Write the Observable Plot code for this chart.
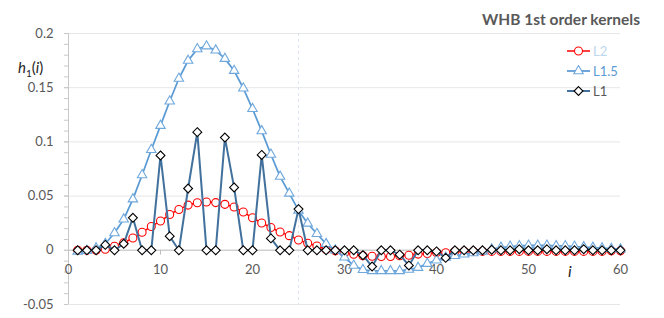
<!DOCTYPE html>
<html><head><meta charset="utf-8">
<script src="https://cdn.jsdelivr.net/npm/d3@7"></script>
<script src="https://cdn.jsdelivr.net/npm/@observablehq/plot@0.6"></script>
<style>
body{margin:0;background:#fff;}
#wrap{position:relative;width:664px;height:318px;font-family:Lato,"Liberation Sans",sans-serif;}
#title{position:absolute;right:24px;top:10px;font-weight:bold;font-size:15.5px;color:#595959;white-space:nowrap;}
#ylab{position:absolute;left:18px;top:58px;font-size:15px;color:#262626;white-space:nowrap;}
#xlab{position:absolute;left:568px;top:261px;font-size:16px;font-style:italic;color:#262626;}
#legend{position:absolute;left:566px;top:41px;font-size:13px;}
.lrow{display:flex;align-items:center;height:20px;}
.lrow svg{margin-right:2px;}
</style></head>
<body>
<div id="wrap">
  <div id="chart"></div>
  <div id="title">WHB 1st order kernels</div>
  <div id="ylab"><i>h</i><sub style="font-size:10px">1</sub>(<i>i</i>)</div>
  <div id="xlab">i</div>
  <div id="legend"></div>
</div>
<script>
const I = d3.range(1, 61);
const L2 = [0,0,0,0.001,0.0037,0.007,0.0113,0.0166,0.022,0.027,
 0.033,0.0377,0.0417,0.0439,0.0445,0.044,0.0424,0.040,0.0353,0.030,
 0.0252,0.021,0.0169,0.0135,0.0095,0.0065,0.004,0.0008,-0.0005,-0.0025,
 -0.0037,-0.005,-0.0055,-0.0057,-0.0057,-0.005,-0.0045,-0.0035,-0.003,-0.002,
 -0.0022,-0.001,-0.001,-0.001,-0.001,-0.001,-0.001,-0.001,-0.001,-0.001,
 -0.001,-0.001,-0.001,-0.001,-0.001,-0.001,-0.001,-0.001,-0.0005,-0.0005];
const L15 = [-0.001,-0.0005,0.002,0.006,0.016,0.0286,0.0472,0.0695,0.0928,0.115,
 0.1375,0.1585,0.175,0.1857,0.1883,0.1845,0.1768,0.1657,0.1495,0.1305,
 0.110,0.0884,0.068,0.0525,0.0368,0.0248,0.0153,0.006,0.0,-0.0065,
 -0.014,-0.018,-0.019,-0.019,-0.019,-0.019,-0.0178,-0.016,-0.0123,-0.0092,
 -0.0067,-0.005,-0.0037,-0.0025,-0.001,0.001,0.0025,0.0035,0.004,0.0045,
 0.0045,0.0045,0.004,0.004,0.0035,0.003,0.0025,0.002,0.0015,0.001];
const L1 = [0,0,0,0.005,0,0.006,0.030,0,0,0.0875,
 0.013,0,0.057,0.109,0,0,0.104,0.058,0,0,
 0.088,0.011,0,0,0.038,0,0,0,0,0,
 0,-0.0045,-0.015,0,0,-0.004,-0.014,0,0,-0.001,
 -0.007,0,0,0,0,0.0005,0,0,0.001,0,
 0,0.001,0,0,0,0.001,0,0,0,0];
const seriesNames = ["L2","L1.5","L1"];
const yMajor = [-0.05,0,0.05,0.1,0.15,0.2];
const yMinor = [-0.05,-0.04,-0.03,-0.02,-0.01,0,0.01,0.02,0.03,0.04,0.05,0.06,0.07,0.08,0.09,0.1,0.11,0.12,0.13,0.14,0.15,0.16,0.17,0.18,0.19,0.2];
const xTicks = [0,10,20,30,40,50,60];
const markerLine = [25];

const styles = {
  "L2":  {line:"#ff0000", lw:1.5, sym:"circle", stroke:"#ff0000", r:4, text:"#bdd7ee"},
  "L1.5":{line:"#5b9bd5", lw:1.75, sym:"triangle2", stroke:"#6fa8dc", r:4.5, text:"#5b9bd5"},
  "L1":  {line:"#41719c", lw:2, sym:"diamond2", stroke:"#000000", r:4, text:"#595959"}
};
const vals = {"L2":L2, "L1.5":L15, "L1":L1};
const rows = s => I.map((i,k) => ({i, v: vals[s][k]}));

const marks = [
  Plot.ruleY(yMajor.filter(d => d !== 0), {stroke:"#e6e6e6", strokeWidth:1}),
  Plot.ruleX(markerLine, {stroke:"#dbe5f3", strokeDasharray:"3,3", strokeWidth:1}),
  Plot.ruleY([0], {stroke:"#d0d0d0", strokeWidth:1.5}),
  Plot.ruleX(xTicks.filter(d => d > 0), {x: d => d, y1: 0, y2: -0.0045, stroke:"#bfbfbf"}),
  Plot.ruleX([0], {stroke:"#c8c8c8", strokeWidth:1}),
  Plot.axisY({ticks: yMinor, tickSize: 4, tickFormat: () => "", stroke:"#c8c8c8", label: null}),
  Plot.axisY({ticks: yMajor, tickSize: 4, tickPadding: 11, tickFormat: d => String(d), fill:"#595959", fontSize:13, stroke:"#c8c8c8", label: null}),
  Plot.text(xTicks, {x: d => d, y: 0, dy: 20, text: d => String(d), fill:"#595959", fontSize:13})
];
for (const s of seriesNames) {
  const st = styles[s];
  marks.push(Plot.line(rows(s), {x:"i", y:"v", stroke: st.line, strokeWidth: st.lw}));
  marks.push(Plot.dot(rows(s), {x:"i", y:"v", symbol: st.sym, r: st.r, stroke: st.stroke, fill:"white", strokeWidth: 1.1}));
}

const chart = Plot.plot({
  width:664, height:318,
  marginLeft:68, marginRight:44, marginTop:33, marginBottom:14,
  x:{domain:[0,60], axis:null},
  y:{domain:[-0.05,0.2], axis:null},
  style:{fontFamily:"Lato, 'Liberation Sans', sans-serif", fontSize:"13px", background:"white", overflow:"visible"},
  marks
});
document.getElementById("chart").appendChild(chart);

// Legend
const leg = d3.select("#legend");
for (const s of seriesNames) {
  const st = styles[s];
  const row = leg.append("div").attr("class","lrow");
  const svg = row.append("svg").attr("width",25).attr("height",12);
  svg.append("line").attr("x1",1).attr("x2",24).attr("y1",6).attr("y2",6).attr("stroke",st.line).attr("stroke-width",st.lw);
  const symMap = {circle:d3.symbolCircle, triangle2:d3.symbolTriangle2, diamond2:d3.symbolDiamond2};
  const size = Math.PI * st.r * st.r;
  svg.append("path").attr("d", d3.symbol(symMap[st.sym], size)()).attr("transform","translate(12.5,6)")
     .attr("fill","white").attr("stroke",st.stroke).attr("stroke-width",1.1);
  row.append("span").text(s).style("color", st.text);
}
</script>
</body></html>
